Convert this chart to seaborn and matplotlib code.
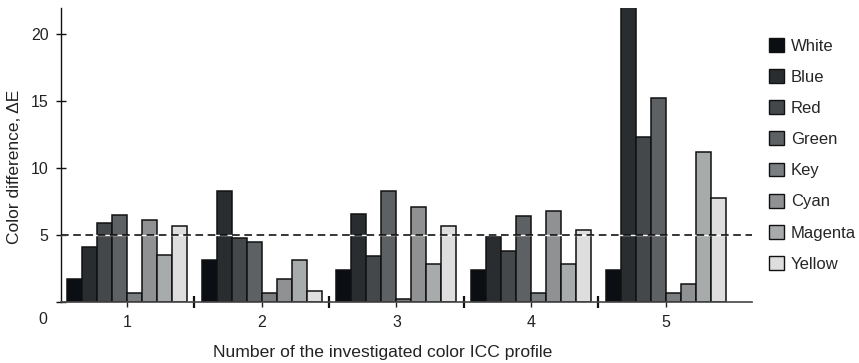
import numpy as np
import pandas as pd
import matplotlib
matplotlib.use("Agg")
import matplotlib.pyplot as plt
from matplotlib.patches import Patch
import seaborn as sns

profiles = ["1", "2", "3", "4", "5"]
inks = ["White", "Blue", "Red", "Green", "Key", "Cyan", "Magenta", "Yellow"]
white = [1.7, 3.1, 2.4, 2.4, 2.4]
blue = [4.1, 8.3, 6.6, 4.95, 22.0]
red = [5.9, 4.8, 3.4, 3.8, 12.3]
green = [6.5, 4.5, 8.3, 6.4, 15.2]
key = [0.7, 0.7, 0.2, 0.7, 0.7]
cyan = [6.1, 1.7, 7.1, 6.8, 1.35]
magenta = [3.5, 3.1, 2.85, 2.85, 11.2]
yellow = [5.7, 0.8, 5.7, 5.35, 7.8]
threshold = 5.0

ink_colors = ["#0b0e12", "#2a2d30", "#45484b", "#5e6163",
              "#7b7e80", "#8f9193", "#a8abab", "#dedede"]

series = [white, blue, red, green, key, cyan, magenta, yellow]
df = pd.DataFrame({
    "profile": np.repeat([profiles], len(inks), axis=0).ravel(),
    "ink": np.repeat(inks, len(profiles)),
    "dE": np.concatenate(series),
})

sns.set_theme(style="white")
plt.rcParams["font.family"] = ["Liberation Sans", "DejaVu Sans"]

W, H = 859, 363
fig = plt.figure(figsize=(W / 100, H / 100), dpi=100)
ax = fig.add_axes([61 / W, 1 - 302 / H, (752 - 61) / W, (302 - 8) / H])

sns.barplot(data=df, x="profile", y="dE", hue="ink", order=profiles,
            hue_order=inks, palette=ink_colors, width=0.89, dodge=True,
            edgecolor="#111111", linewidth=1.1, saturation=1, ax=ax,
            legend=False)

ax.set_xlim(-0.49, 4.64)
ax.set_ylim(0, 21.95)

# reference level
ax.axhline(threshold, color="white", lw=1.0, zorder=5)
ax.axhline(threshold, color="black", lw=1.1, ls=(0, (5, 3)), zorder=6)

for s in ["top", "right"]:
    ax.spines[s].set_visible(False)
ax.spines["left"].set_color("#111111")
ax.spines["bottom"].set_color("#444444")
ax.spines["left"].set_linewidth(1.0)
ax.spines["bottom"].set_linewidth(1.2)

ax.set_yticks([0, 5, 10, 15, 20])
ax.set_yticklabels(["", "5", "10", "15", "20"])
ax.tick_params(axis="y", direction="inout", length=7, width=1.0,
               labelsize=11.5, colors="#111111", labelcolor="#222222",
               pad=5.5, left=True)
ax.set_xticks(range(len(profiles)))
ax.set_xticklabels(profiles)
ax.tick_params(axis="x", direction="out", length=3.5, width=1.0,
               labelsize=11.5, colors="#222222", pad=6, bottom=True)
ax.set_xticks([0.5, 1.5, 2.5, 3.5], minor=True)
ax.tick_params(axis="x", which="minor", direction="inout", length=8,
               width=1.6, color="#111111", bottom=True)

ax.set_xlabel("")
ax.set_ylabel("")
fig.text(383 / W, 1 - 352 / H, "Number of the investigated color ICC profile",
         fontsize=12.6, color="#222222", ha="center", va="center")
fig.text(15 / W, 1 - 167 / H, "Color difference, ΔE", fontsize=12.5,
         color="#222222", ha="center", va="center", rotation=90)
fig.text(43 / W, 1 - 320 / H, "0", fontsize=11.5, color="#222222",
         ha="center", va="center")

handles = [Patch(facecolor=c, edgecolor="#111111", lw=1.0) for c in ink_colors]
fig.legend(handles, inks, loc="upper left",
           bbox_to_anchor=(769 / W, 1 - 38 / H), frameon=False,
           fontsize=12, handlelength=0.9, handleheight=0.9,
           handletextpad=0.4, labelspacing=0.93, borderaxespad=0,
           borderpad=0)

fig.savefig("out.png", dpi=100)
